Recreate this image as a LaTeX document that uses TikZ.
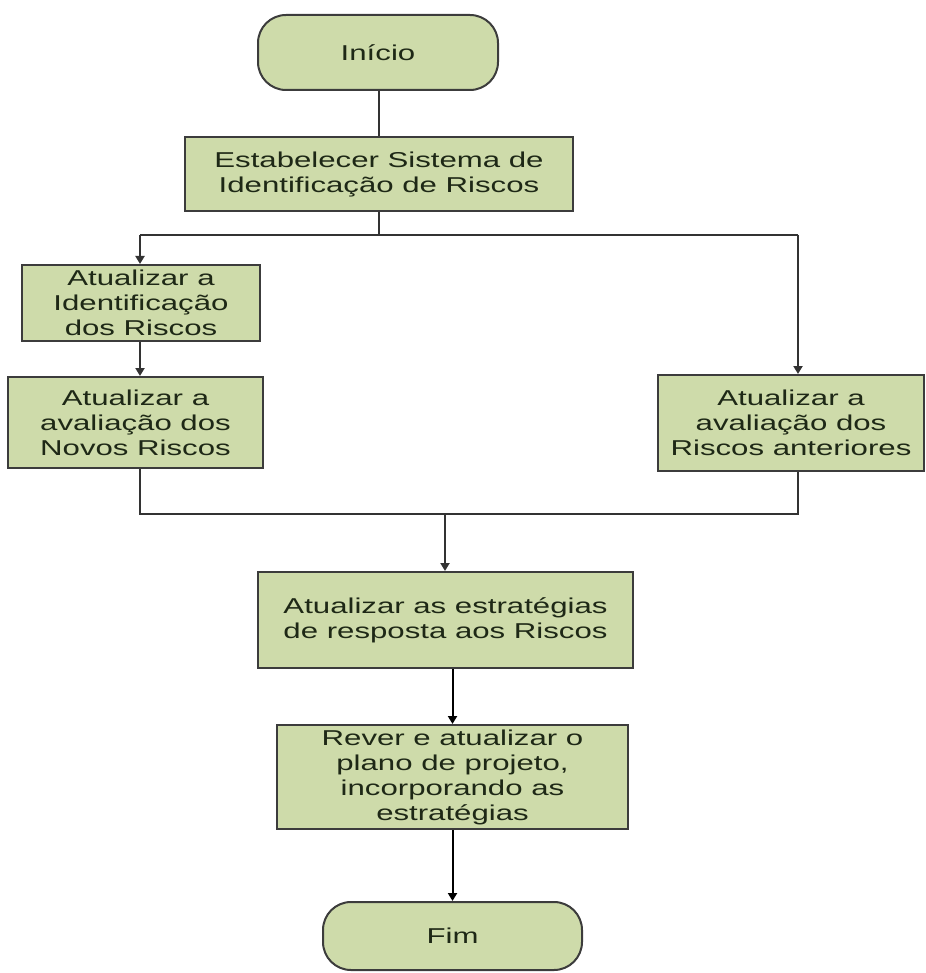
\documentclass[tikz,border=0pt]{standalone}
\usepackage{fontspec}
\setmainfont[FakeStretch=1.45]{Liberation Sans}
\usetikzlibrary{arrows.meta}
\definecolor{boxfill}{HTML}{CEDBAA}
\definecolor{boxedge}{HTML}{3C3C3C}
\definecolor{txt}{HTML}{1E2816}
\begin{document}
\begin{tikzpicture}[x=1pt,y=-1pt,
  box/.style={draw=boxedge, line width=2pt, fill=boxfill, inner sep=0pt,
    align=center, text=txt, font=\fontsize{21.5}{25}\selectfont},
  term/.style={box, rounded corners=28pt},
  conn/.style={draw=black!80, line width=2pt},
  arr/.style={conn, -{Triangle[width=9pt,length=8pt]}}]
\useasboundingbox (0,0) rectangle (925,973);

\node[term, minimum width=240pt, minimum height=75pt] (ini) at (378,52.5) {Início};
\node[box, minimum width=388pt, minimum height=74pt] (b2) at (379,174) {Estabelecer Sistema de\\Identificação de Riscos};
\node[box, minimum width=238pt, minimum height=76pt] (b3) at (141,303) {Atualizar a\\Identificação\\dos Riscos};
\node[box, minimum width=255pt, minimum height=91pt] (b4) at (135.5,422.5) {Atualizar a\\avaliação dos\\Novos Riscos};
\node[box, minimum width=266pt, minimum height=96pt] (b5) at (791,423) {Atualizar a\\avaliação dos\\Riscos anteriores};
\node[box, minimum width=375pt, minimum height=96pt] (b6) at (445.5,620) {Atualizar as estratégias\\de resposta aos Riscos};
\node[box, minimum width=351pt, minimum height=104pt] (b7) at (452.5,777) {Rever e atualizar o\\plano de projeto,\\incorporando as\\estratégias};
\node[term, minimum width=259pt, minimum height=68pt] (fim) at (452.5,936) {Fim};

\coordinate (jL) at (140,235);
\coordinate (jR) at (798,235);
\coordinate (mL) at (140,514);
\coordinate (mR) at (798,514);
\coordinate (mC) at (445,514);

\draw[conn] (ini.south -| b2.north) -- (b2.north);
\draw[conn] (b2.south) -- (b2.south |- jL);
\draw[conn] (jL) -- (jR);
\draw[arr] (jL) -- (b3.north -| jL);
\draw[arr] (jR) -- (b5.north -| jR);
\draw[arr] (b3.south -| jL) -- (b4.north -| jL);
\draw[conn] (b4.south -| mL) -- (mL) -- (mR) -- (b5.south -| mR);
\draw[arr] (mC) -- (b6.north -| mC);
\draw[arr, draw=black] (b6.south -| b7.north) -- (b7.north);
\draw[arr, draw=black] (b7.south) -- (fim.north);
\end{tikzpicture}
\end{document}
